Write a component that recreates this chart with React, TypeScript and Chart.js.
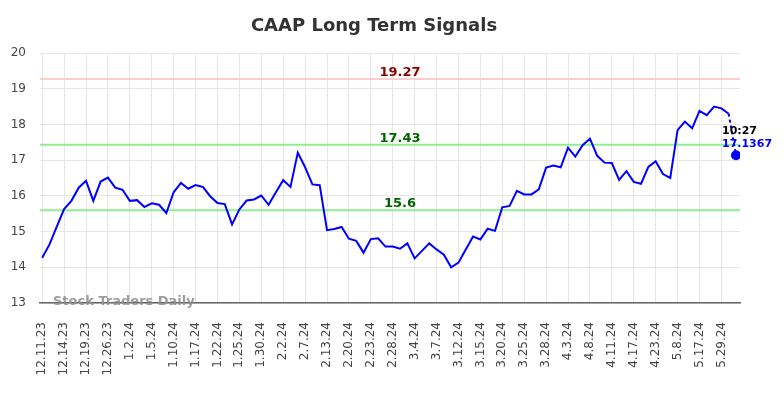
import React, { useEffect, useRef } from "react";
import { Chart, registerables } from "chart.js";

Chart.register(...registerables);

const FONT = "'DejaVu Sans', Verdana, sans-serif";

const titleText = "CAAP Long Term Signals";
const watermarkText = "Stock Traders Daily";

// one tick label every third trading point
const tickLabels = [
  "12.11.23", "12.14.23", "12.19.23", "12.26.23", "1.2.24", "1.5.24", "1.10.24", "1.17.24",
  "1.22.24", "1.25.24", "1.30.24", "2.2.24", "2.7.24", "2.13.24", "2.20.24", "2.23.24",
  "2.28.24", "3.4.24", "3.7.24", "3.12.24", "3.15.24", "3.20.24", "3.25.24", "3.28.24",
  "4.3.24", "4.8.24", "4.11.24", "4.17.24", "4.23.24", "5.8.24", "5.17.24", "5.29.24",
];
const pointsPerTick = 3;

const prices = [
  14.27, 14.64, 15.14, 15.63, 15.86, 16.23, 16.42, 15.86, 16.4, 16.51,
  16.23, 16.17, 15.86, 15.88, 15.69, 15.79, 15.75, 15.52, 16.1, 16.36,
  16.2, 16.3, 16.25, 15.99, 15.8, 15.77, 15.2, 15.62, 15.87, 15.9,
  16.01, 15.75, 16.1, 16.44, 16.25, 17.21, 16.8, 16.32, 16.3, 15.04,
  15.07, 15.13, 14.8, 14.74, 14.41, 14.79, 14.81, 14.58, 14.58, 14.52,
  14.67, 14.25, 14.46, 14.67, 14.5, 14.35, 14.0, 14.13, 14.5, 14.86,
  14.78, 15.08, 15.02, 15.68, 15.72, 16.14, 16.04, 16.04, 16.18, 16.79,
  16.85, 16.8, 17.35, 17.1, 17.42, 17.6, 17.12, 16.93, 16.92, 16.45,
  16.69, 16.39, 16.34, 16.81, 16.97, 16.61, 16.5, 17.84, 18.08, 17.89,
  18.38, 18.26, 18.5, 18.45, 18.3, 17.1367,
];

const lastTime = "10:27";
const lastPriceLabel = "17.1367";

const signalValues = [19.27, 17.43, 15.6];
const signalLabels = ["19.27", "17.43", "15.6"];
const signalLineColors = ["#ffcccc", "#90ee90", "#90ee90"];
const signalTextColors = ["#8b0000", "#006400", "#006400"];

const yMin = 13;
const yMax = 20;

export default function App() {
  const ref = useRef<HTMLCanvasElement>(null);

  useEffect(() => {
    document.body.style.margin = "0";
    const canvas = ref.current;
    if (!canvas) return;
    const last = prices.length - 1;

    const overlay = {
      id: "overlay",
      beforeDatasetsDraw(chart: any) {
        const { ctx, chartArea, scales } = chart;
        const ys = scales.y;
        ctx.save();
        // signal lines
        signalValues.forEach((v, k) => {
          const py = ys.getPixelForValue(v);
          ctx.strokeStyle = signalLineColors[k];
          ctx.lineWidth = 2;
          ctx.beginPath();
          ctx.moveTo(chartArea.left, py);
          ctx.lineTo(chartArea.right, py);
          ctx.stroke();
          ctx.fillStyle = signalTextColors[k];
          ctx.font = `bold 13px ${FONT}`;
          ctx.textAlign = "center";
          ctx.textBaseline = "alphabetic";
          ctx.fillText(signalLabels[k], (chartArea.left + chartArea.right) / 2 + 10, py - 3);
        });
        // watermark
        ctx.font = `bold 13px ${FONT}`;
        ctx.fillStyle = "rgba(140,140,140,0.85)";
        ctx.textAlign = "left";
        ctx.textBaseline = "middle";
        ctx.fillText(watermarkText, chartArea.left + 13, chartArea.bottom - 1);
        ctx.restore();
      },
      afterDraw(chart: any) {
        const { ctx, scales } = chart;
        const px = scales.x.getPixelForValue(last);
        const py = scales.y.getPixelForValue(prices[last]);
        ctx.save();
        ctx.textAlign = "left";
        ctx.textBaseline = "middle";
        ctx.font = `bold 11px ${FONT}`;
        ctx.fillStyle = "#000";
        ctx.fillText(lastTime, px - 14, py - 24);
        ctx.fillStyle = "#0000ff";
        ctx.fillText(lastPriceLabel, px - 14, py - 11);
        // title
        ctx.font = `bold 18px ${FONT}`;
        ctx.fillStyle = "#333";
        ctx.textAlign = "center";
        ctx.fillText(titleText, 374, 26);
        ctx.restore();
      },
    };

    const chart = new Chart(canvas, {
      type: "line",
      data: {
        datasets: [
          {
            data: prices.map((y, i) => ({ x: i, y })),
            borderColor: "#0000ff",
            backgroundColor: "#0000ff",
            borderWidth: 2,
            tension: 0,
            fill: false,
            pointRadius: (c: any) => (c.dataIndex === last ? 4 : 0),
            pointHoverRadius: 0,
            segment: {
              borderDash: (c: any) => (c.p1DataIndex === last ? [3, 3] : undefined),
            },
          },
        ],
      },
      options: {
        animation: false,
        responsive: false,
        events: [],
        layout: { padding: { top: 53, right: 44, left: 0, bottom: 0 } },
        plugins: {
          legend: { display: false },
          title: { display: false },
          tooltip: { enabled: false },
        },
        scales: {
          x: {
            type: "linear",
            min: -0.3,
            max: 95.55,
            afterFit: (s: any) => {
              s.height = 95;
            },
            grid: { color: "#e6e6e6", lineWidth: 1, drawTicks: false },
            border: { display: true, color: "#666", width: 1.5 },
            ticks: {
              stepSize: pointsPerTick,
              includeBounds: false,
              autoSkip: false,
              maxRotation: 90,
              minRotation: 90,
              padding: 19,
              color: "#444",
              font: { family: FONT, size: 12 },
              callback: (v: any) => {
                const k = v / pointsPerTick;
                return Number.isInteger(k) && k >= 0 && k < tickLabels.length ? tickLabels[k] : null;
              },
            },
          },
          y: {
            min: yMin,
            max: yMax,
            afterFit: (s: any) => {
              s.width = 40;
            },
            grid: { color: "#e6e6e6", lineWidth: 1, drawTicks: false },
            border: { display: false },
            ticks: {
              stepSize: 1,
              padding: 14,
              color: "#444",
              font: { family: FONT, size: 12 },
            },
          },
        },
      },
      plugins: [overlay],
    });

    return () => chart.destroy();
  }, []);

  return <canvas ref={ref} width={784} height={398} style={{ display: "block" }} />;
}
